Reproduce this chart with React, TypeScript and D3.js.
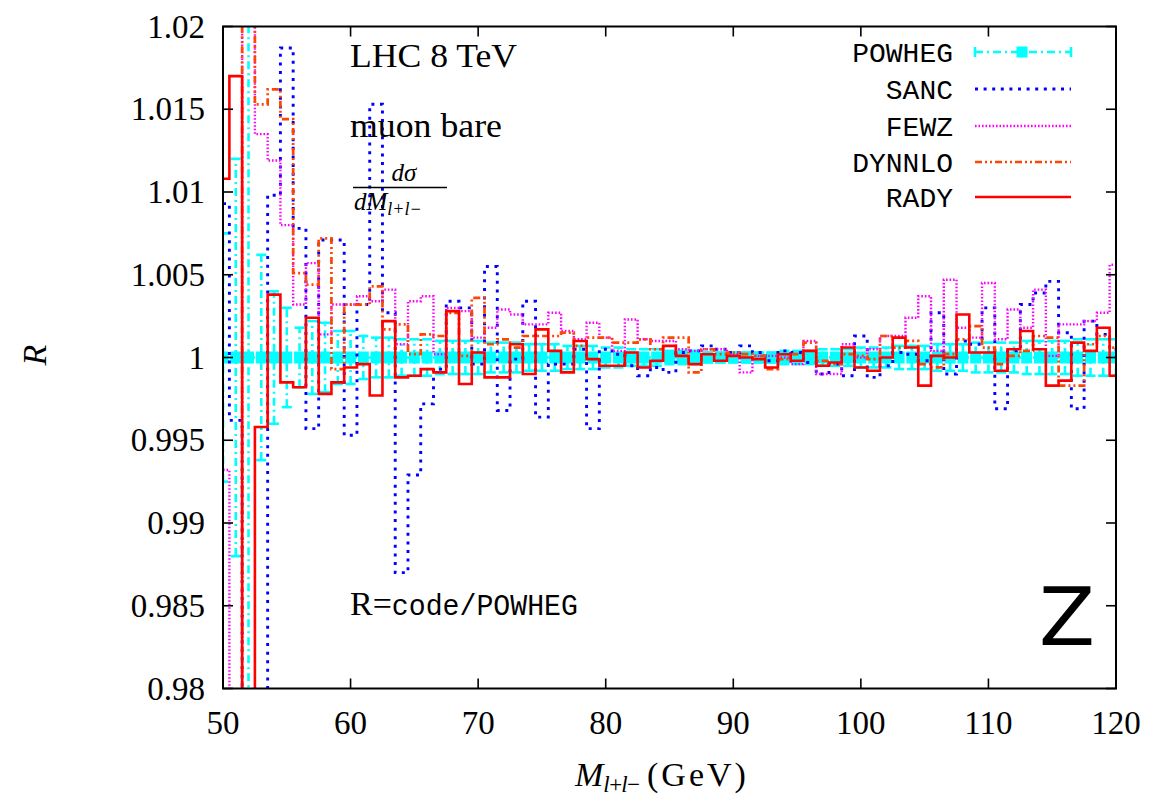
import React from "react";
import * as d3 from "d3";

// Dilepton invariant mass bins (GeV), one point per bin centre
const masses = [
  50, 51, 52, 53, 54, 55, 56, 57, 58, 59, 60, 61, 62, 63, 64, 65, 66, 67, 68, 69,
  70, 71, 72, 73, 74, 75, 76, 77, 78, 79, 80, 81, 82, 83, 84, 85, 86, 87, 88, 89,
  90, 91, 92, 93, 94, 95, 96, 97, 98, 99, 100, 101, 102, 103, 104, 105, 106, 107, 108, 109,
  110, 111, 112, 113, 114, 115, 116, 117, 118, 119, 120,
];

// Reference code divided by itself
const powheg = [
  1, 1, 1, 1, 1, 1, 1, 1, 1, 1, 1, 1, 1, 1, 1, 1, 1, 1, 1, 1,
  1, 1, 1, 1, 1, 1, 1, 1, 1, 1, 1, 1, 1, 1, 1, 1, 1, 1, 1, 1,
  1, 1, 1, 1, 1, 1, 1, 1, 1, 1, 1, 1, 1, 1, 1, 1, 1, 1, 1, 1,
  1, 1, 1, 1, 1, 1, 1, 1, 1, 1, 1,
];

// Statistical uncertainty of the reference (symmetric)
const powhegErr = [
  0.0075, 0.012, 0.025, 0.0062, 0.004, 0.003, 0.0018, 0.0022, 0.0021, 0.0016,
  0.0016, 0.0013, 0.0012, 0.0012, 0.0011, 0.0011, 0.0011, 0.001, 0.001, 0.001,
  0.001, 0.0009, 0.0009, 0.0009, 0.0008, 0.0008, 0.0008, 0.0007, 0.0007, 0.0007,
  0.0006, 0.0006, 0.0005, 0.0005, 0.0005, 0.0004, 0.0004, 0.0004, 0.0003, 0.0003,
  0.0003, 0.0003, 0.0003, 0.0003, 0.0004, 0.0004, 0.0004, 0.0005, 0.0005, 0.0005,
  0.0006, 0.0006, 0.0006, 0.0007, 0.0007, 0.0007, 0.0008, 0.0008, 0.0008, 0.0009,
  0.0009, 0.0009, 0.0009, 0.001, 0.001, 0.001, 0.001, 0.0011, 0.0011, 0.0011, 0.0011,
];

const sanc = [
  1.0093, 0.9962, 0.97, 0.97, 1.0098, 1.0187, 1.0078, 0.9957, 1.0071, 1.0071,
  0.9953, 1.0032, 1.0153, 1.0027, 0.987, 0.9929, 0.9972, 0.9993, 1.0034, 1.003,
  0.9996, 1.0055, 0.9968, 0.9999, 1.0034, 0.9964, 0.9996, 0.9996, 1.0005, 0.9957,
  1.0005, 1.0002, 0.9995, 0.9989, 0.9994, 0.9991, 1.0003, 1.0004, 1.0007, 1.0005,
  1.0003, 1.0007, 1.0003, 0.9998, 1.0004, 1.0003, 0.9997, 0.999, 0.9996, 0.9989,
  1.0013, 0.9988, 0.9995, 1.0003, 1.0002, 0.9998, 1.0027, 0.999, 1.001, 1.0008,
  1.003, 0.9969, 1.0004, 1.0032, 1.0039, 1.0046, 1.0015, 0.9969, 1.0022, 1.0014, 1.0005,
];

const fewz = [
  0.9932, 0.97, 1.03, 1.0135, 1.0119, 1.008, 1.0032, 1.0057, 1.0014, 1.0032,
  1.0032, 1.0037, 1.0034, 1.0041, 1.0008, 1.0034, 1.0037, 1.0002, 1.003, 1.0028,
  1.0012, 1.0018, 1.0029, 1.0026, 1.002, 1.002, 1.0027, 1.0016, 1.0011, 1.0021,
  1.0012, 1.0004, 1.0023, 1.0011, 1.001, 1.001, 1.0005, 1.0004, 1.0005, 1.0005,
  1.0002, 0.9991, 1.0001, 1.0001, 1.0, 0.9996, 1.001, 0.999, 0.999, 1.0008,
  1.0, 1.0005, 1.0013, 1.0013, 1.0024, 1.0037, 1.0004, 1.0047, 1.0018, 1.0012,
  1.0045, 1.0011, 1.0029, 1.0018, 1.0041, 1.0001, 1.002, 1.002, 1.0022, 1.0027, 1.0056,
];

const dynnlo = [
  0.97, 0.97, 1.03, 1.0153, 1.0162, 1.0144, 1.0051, 1.0044, 1.0072, 0.9993,
  1.0032, 1.0032, 1.0043, 1.0017, 1.002, 1.0002, 1.0014, 1.0013, 1.0027, 1.0001,
  1.0036, 1.0008, 1.0011, 1.0006, 1.0013, 1.0013, 1.0013, 1.0015, 1.0007, 1.0012,
  1.0012, 1.0009, 1.0009, 1.0011, 1.0005, 1.0012, 1.0012, 0.9991, 1.0005, 1.0002,
  1.0003, 1.0002, 1.0001, 0.9993, 0.9999, 1.0002, 1.0009, 0.9998, 0.9996, 1.0002,
  1.0001, 0.9999, 1.0013, 1.0006, 1.001, 0.9996, 0.9994, 1.0002, 1.0011, 1.0019,
  1.0006, 0.9996, 1.0001, 1.0004, 1.0013, 1.0012, 0.9983, 0.9983, 1.0008, 1.0013, 1.0006,
];

const rady = [
  1.0108, 1.017, 0.97, 0.9958, 1.0038, 0.9985, 0.9982, 1.0024, 0.9978, 0.9985,
  0.9994, 0.9996, 0.9977, 1.0022, 0.9988, 0.9989, 0.9993, 0.9991, 1.0028, 0.9984,
  1.0003, 0.9988, 0.9988, 1.0008, 0.999, 1.0017, 1.0004, 0.9991, 1.001, 0.9999,
  0.9995, 0.9995, 1.0003, 0.9994, 0.9998, 1.0007, 1.0001, 0.9996, 1.0002, 0.9998,
  1.0001, 1.0, 0.9999, 0.9994, 1.0002, 0.9998, 1.0004, 0.9995, 0.9997, 1.0006,
  0.9994, 0.9992, 1.0, 1.0012, 1.0006, 0.9983, 1.0001, 1.0, 1.0026, 1.0003,
  1.0003, 0.9992, 1.0005, 1.0016, 1.0005, 0.9983, 0.9986, 1.0009, 1.0004, 1.0018, 0.9989,
];

const xTicks = [50, 60, 70, 80, 90, 100, 110, 120];
const yTicks = [0.98, 0.985, 0.99, 0.995, 1, 1.005, 1.01, 1.015, 1.02];
const yTickLabels = ["0.98", "0.985", "0.99", "0.995", "1", "1.005", "1.01", "1.015", "1.02"];

const W = 1151;
const H = 798;
const PL = 223;
const PR = 1116;
const PT = 26.5;
const PB = 688.5;

const SERIF = "'Liberation Serif', 'Times New Roman', serif";
const MONO = "'Liberation Mono', 'DejaVu Sans Mono', monospace";

const steps = [
  { name: "SANC", values: sanc, color: "#0000ff", dash: "3 5.6", width: 2.9 },
  { name: "FEWZ", values: fewz, color: "#ff00ff", dash: "1.6 1.9", width: 2.4 },
  { name: "DYNNLO", values: dynnlo, color: "#ff4500", dash: "7 3 2 3 2 3", width: 2.7 },
  { name: "RADY", values: rady, color: "#ff0000", dash: "none", width: 2.6 },
];

const POWHEG_COLOR = "#00ffff";
const POWHEG_DASH = "8 4 2 4";

export default function App() {
  const x = d3.scaleLinear().domain([50, 120]).range([PL, PR]);
  const y = d3.scaleLinear().domain([0.98, 1.02]).range([PB, PT]);

  const stepLine = d3
    .line<number>()
    .x((_, i) => x(masses[i]))
    .y((d) => y(d))
    .curve(d3.curveStep);

  const straight = d3
    .line<number>()
    .x((_, i) => x(masses[i]))
    .y((d) => y(d));

  const legendY = [52, 89, 126, 162, 197];
  const legendNames = ["POWHEG", "SANC", "FEWZ", "DYNNLO", "RADY"];
  const lx0 = 975;
  const lx1 = 1071;

  return (
    <svg
      width={W}
      height={H}
      viewBox={`0 0 ${W} ${H}`}
      style={{ position: "absolute", left: 0, top: 0, background: "#fff" }}
    >
      <defs>
        <clipPath id="plotArea">
          <rect x={PL} y={PT} width={PR - PL} height={PB - PT} />
        </clipPath>
      </defs>
      <rect x={0} y={0} width={W} height={H} fill="#fff" />

      <g clipPath="url(#plotArea)">
        {/* POWHEG: dash-dot line, error bars and square markers */}
        <path
          d={straight(powheg) || ""}
          fill="none"
          stroke={POWHEG_COLOR}
          strokeWidth={2.6}
          strokeDasharray={POWHEG_DASH}
        />
        {masses.map((m, i) => {
          const cx = x(m);
          const y0 = y(powheg[i] - powhegErr[i]);
          const y1 = y(powheg[i] + powhegErr[i]);
          return (
            <g key={`eb${m}`} stroke={POWHEG_COLOR} strokeWidth={2.6}>
              <line x1={cx} x2={cx} y1={y0} y2={y1} strokeDasharray={POWHEG_DASH} />
              <line x1={cx - 5} x2={cx + 5} y1={y0} y2={y0} />
              <line x1={cx - 5} x2={cx + 5} y1={y1} y2={y1} />
            </g>
          );
        })}
        {masses.map((m, i) => (
          <rect
            key={`sq${m}`}
            x={x(m) - 5.5}
            y={y(powheg[i]) - 6}
            width={11}
            height={12}
            fill={POWHEG_COLOR}
          />
        ))}

        {steps.map((s) => (
          <path
            key={s.name}
            d={stepLine(s.values) || ""}
            fill="none"
            stroke={s.color}
            strokeWidth={s.width}
            strokeDasharray={s.dash}
            strokeLinejoin="miter"
          />
        ))}
      </g>

      {/* Frame and ticks */}
      <rect x={PL} y={PT} width={PR - PL} height={PB - PT} fill="none" stroke="#000" strokeWidth={2} />
      {yTicks.map((t, i) => (
        <g key={`yt${i}`}>
          <line x1={PL} x2={PL + 10} y1={y(t)} y2={y(t)} stroke="#000" strokeWidth={1.6} />
          <line x1={PR} x2={PR - 10} y1={y(t)} y2={y(t)} stroke="#000" strokeWidth={1.6} />
          <text
            x={205}
            y={y(t) + 11}
            textAnchor="end"
            fontFamily={SERIF}
            fontSize={33}
            fill="#000"
          >
            {yTickLabels[i]}
          </text>
        </g>
      ))}
      {xTicks.map((t) => (
        <g key={`xt${t}`}>
          <line x1={x(t)} x2={x(t)} y1={PB} y2={PB - 10} stroke="#000" strokeWidth={1.6} />
          <line x1={x(t)} x2={x(t)} y1={PT} y2={PT + 10} stroke="#000" strokeWidth={1.6} />
          <text x={x(t)} y={734} textAnchor="middle" fontFamily={SERIF} fontSize={33} fill="#000">
            {t}
          </text>
        </g>
      ))}

      {/* Axis titles */}
      <text
        transform="translate(46,355) rotate(-90)"
        textAnchor="middle"
        fontFamily={SERIF}
        fontStyle="italic"
        fontSize={34}
        fill="#000"
      >
        R
      </text>
      <text x={575} y={786} fontFamily={SERIF} fontSize={34} fill="#000">
        <tspan fontStyle="italic">M</tspan>
        <tspan fontStyle="italic" fontSize={23} dy={6} textLength={38} lengthAdjust="spacing">
          l+l−
        </tspan>
        <tspan x={647} dy={-6} letterSpacing={3}>
          (GeV)
        </tspan>
      </text>

      {/* Annotations */}
      <text x={350} y={67} fontFamily={SERIF} fontSize={34} fill="#000" textLength={167} lengthAdjust="spacingAndGlyphs">
        LHC 8 TeV
      </text>
      <text x={350} y={137} fontFamily={SERIF} fontSize={34} fill="#000" textLength={152} lengthAdjust="spacingAndGlyphs">
        muon bare
      </text>
      <text x={404} y={181} textAnchor="middle" fontFamily={SERIF} fontStyle="italic" fontSize={25} fill="#000">
        dσ
      </text>
      <line x1={353} x2={447} y1={187.5} y2={187.5} stroke="#000" strokeWidth={1.6} />
      <text x={354} y={210} fontFamily={SERIF} fontStyle="italic" fontSize={25} fill="#000">
        dM
        <tspan fontSize={18} dy={5}>
          l+l−
        </tspan>
      </text>
      <text x={350} y={615} fontFamily={SERIF} fontSize={34} fill="#000">
        R=
        <tspan fontFamily={MONO} fontSize={29} textLength={186} lengthAdjust="spacingAndGlyphs">
          code/POWHEG
        </tspan>
      </text>
      <text
        x={1039}
        y={645}
        fontFamily="'DejaVu Sans', sans-serif"
        fontSize={80}
        fill="#000"
        textLength={56}
        lengthAdjust="spacingAndGlyphs"
      >
        Z
      </text>

      {/* Legend */}
      {legendNames.map((n, i) => (
        <text
          key={`lt${n}`}
          x={953}
          y={legendY[i] + 10}
          textAnchor="end"
          fontFamily={MONO}
          fontSize={28}
          fill="#000"
        >
          {n}
        </text>
      ))}
      <g stroke={POWHEG_COLOR} strokeWidth={2.6}>
        <line x1={lx0} x2={lx1} y1={legendY[0]} y2={legendY[0]} strokeDasharray={POWHEG_DASH} />
        <line x1={lx0} x2={lx0} y1={legendY[0] - 5} y2={legendY[0] + 5} />
        <line x1={lx1} x2={lx1} y1={legendY[0] - 5} y2={legendY[0] + 5} />
      </g>
      <rect x={1022 - 5.5} y={legendY[0] - 5.5} width={11} height={11} fill={POWHEG_COLOR} />
      {steps.map((s, i) => (
        <line
          key={`ll${s.name}`}
          x1={lx0}
          x2={lx1}
          y1={legendY[i + 1]}
          y2={legendY[i + 1]}
          stroke={s.color}
          strokeWidth={s.width}
          strokeDasharray={s.dash}
        />
      ))}
    </svg>
  );
}
